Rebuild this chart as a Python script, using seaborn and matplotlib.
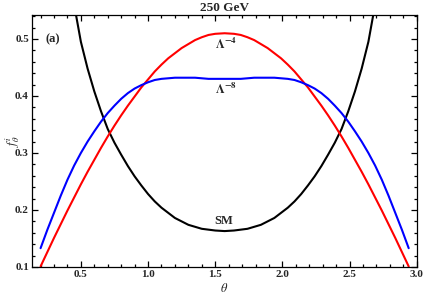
import numpy as np
import pandas as pd
import matplotlib
matplotlib.use("Agg")
import matplotlib.pyplot as plt
from matplotlib.ticker import MultipleLocator
import seaborn as sns

# values
theta_sm = [0.45, 0.50, 0.55, 0.60, 0.65, 0.70, 0.75, 0.80, 0.85, 0.90, 0.95, 1.00,
            1.05, 1.10, 1.20, 1.30, 1.40, 1.50, 1.57, 1.64, 1.74, 1.84, 1.94, 2.04,
            2.09, 2.14, 2.19, 2.24, 2.29, 2.34, 2.39, 2.44, 2.49, 2.54, 2.59, 2.64, 2.69]
f_sm = [0.560, 0.495, 0.448, 0.408, 0.373, 0.342, 0.318, 0.297, 0.277, 0.259, 0.243, 0.228,
        0.215, 0.204, 0.186, 0.174, 0.167, 0.164, 0.163, 0.164, 0.167, 0.174, 0.186, 0.204,
        0.215, 0.228, 0.243, 0.259, 0.277, 0.297, 0.318, 0.342, 0.373, 0.408, 0.448, 0.495, 0.560]

theta_np = [0.20, 0.25, 0.30, 0.35, 0.40, 0.45, 0.50, 0.55, 0.60, 0.65, 0.70, 0.75, 0.80,
            0.85, 0.90, 0.95, 1.00, 1.05, 1.10, 1.15, 1.20, 1.25, 1.30, 1.35, 1.40, 1.45,
            1.50, 1.57, 1.64, 1.69, 1.74, 1.79, 1.84, 1.89, 1.94, 1.99, 2.04, 2.09, 2.14,
            2.19, 2.24, 2.29, 2.34, 2.39, 2.44, 2.49, 2.54, 2.59, 2.64, 2.69, 2.74, 2.79,
            2.84, 2.89, 2.94]
f_lam4 = [0.101, 0.126, 0.151, 0.175, 0.199, 0.222, 0.245, 0.267, 0.288, 0.309, 0.329, 0.348,
          0.366, 0.383, 0.399, 0.415, 0.429, 0.443, 0.455, 0.466, 0.475, 0.484, 0.491, 0.498,
          0.503, 0.507, 0.509, 0.510, 0.509, 0.507, 0.503, 0.498, 0.491, 0.484, 0.475, 0.466,
          0.455, 0.443, 0.429, 0.415, 0.399, 0.383, 0.366, 0.348, 0.329, 0.309, 0.288, 0.267,
          0.245, 0.222, 0.199, 0.175, 0.151, 0.126, 0.101]
f_lam8 = [0.133, 0.165, 0.195, 0.225, 0.253, 0.278, 0.300, 0.320, 0.338, 0.355, 0.370, 0.383,
          0.395, 0.405, 0.413, 0.419, 0.424, 0.428, 0.430, 0.431, 0.432, 0.432, 0.432, 0.432,
          0.431, 0.430, 0.430, 0.430, 0.430, 0.430, 0.431, 0.432, 0.432, 0.432, 0.432, 0.431,
          0.430, 0.428, 0.424, 0.419, 0.413, 0.405, 0.395, 0.383, 0.370, 0.355, 0.338, 0.320,
          0.300, 0.278, 0.253, 0.225, 0.195, 0.165, 0.133]

df = pd.concat([
    pd.DataFrame({'theta': theta_sm, 'f': f_sm, 'model': 'SM'}),
    pd.DataFrame({'theta': theta_np, 'f': f_lam4, 'model': 'L4'}),
    pd.DataFrame({'theta': theta_np, 'f': f_lam8, 'model': 'L8'}),
], ignore_index=True)

sns.set_style("ticks")
plt.rcParams['font.family'] = ['Liberation Serif', 'DejaVu Serif']
plt.rcParams['mathtext.fontset'] = 'stix'

fig = plt.figure(figsize=(4.25, 3.0), dpi=100)
ax = fig.add_axes([0.0746, 0.11, 0.906, 0.84])

sns.lineplot(data=df, x='theta', y='f', hue='model', estimator=None,
             palette={'SM': 'black', 'L4': '#ff0000', 'L8': '#0000ff'},
             linewidth=1.5, legend=False, ax=ax)

ax.set_xlim(0.134, 3.0)
ax.set_ylim(0.1, 0.542)
ax.xaxis.set_major_locator(MultipleLocator(0.5))
ax.xaxis.set_minor_locator(MultipleLocator(0.1))
ax.yaxis.set_major_locator(MultipleLocator(0.1))
ax.yaxis.set_minor_locator(MultipleLocator(0.02))
ax.tick_params(which='both', direction='in', top=True, right=True, color='black', width=0.9)
ax.tick_params(which='major', length=4, labelsize=8, pad=2)
ax.tick_params(which='minor', length=2)
for lab in ax.get_xticklabels() + ax.get_yticklabels():
    lab.set_fontweight('bold')
for sp in ax.spines.values():
    sp.set_color('black')
    sp.set_linewidth(0.9)

ax.set_xlabel(r'$\theta$', fontsize=9, labelpad=2)
ax.set_ylabel(r'$f_{\theta}^{i}$', fontsize=9, va='center')
ax.yaxis.set_label_coords(-0.05, 0.5)
ax.set_title('250 GeV', fontsize=9.5, fontweight='bold', pad=3)

ax.text(0.238, 0.5, '(a)', fontsize=9, fontweight='bold', ha='left', va='center')
ax.text(1.577, 0.491, r'$\mathbf{\Lambda^{-4}}$', fontsize=9, ha='center', va='center')
ax.text(1.577, 0.412, r'$\mathbf{\Lambda^{-8}}$', fontsize=9, ha='center', va='center')
ax.text(1.565, 0.181, 'SM', fontsize=9, fontweight='bold', ha='center', va='center')

fig.savefig('out.png', dpi=100)
